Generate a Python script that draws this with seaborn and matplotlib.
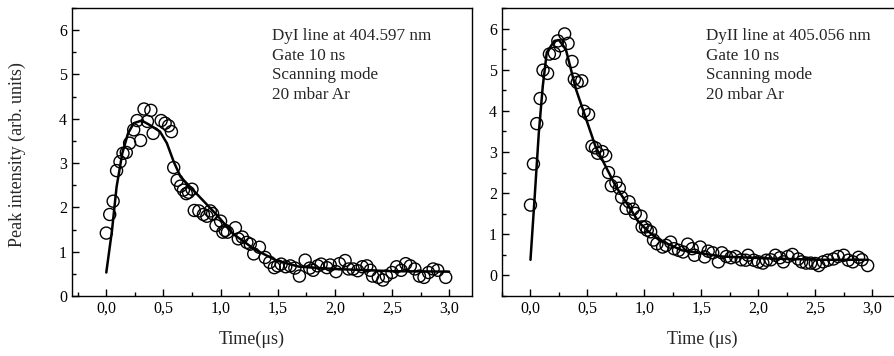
import numpy as np
import pandas as pd
import seaborn as sns
import matplotlib.pyplot as plt
from matplotlib.ticker import MultipleLocator, FuncFormatter

# DyI 404.597 nm - measured points
t_dy1 = [0.00, 0.03, 0.06, 0.09, 0.12, 0.146, 0.175, 0.204, 0.24, 0.27, 0.30, 0.33, 0.36, 0.39,
         0.41, 0.48, 0.515, 0.545, 0.57, 0.59, 0.62, 0.65, 0.675, 0.70, 0.72, 0.75, 0.77, 0.81,
         0.85, 0.88, 0.91, 0.93, 0.96, 1.00, 1.02, 1.04, 1.06, 1.13, 1.155, 1.19, 1.23, 1.26,
         1.29, 1.34, 1.39, 1.43, 1.47, 1.50, 1.53, 1.57, 1.61, 1.65, 1.69, 1.74, 1.78, 1.81,
         1.85, 1.88, 1.93, 1.96, 2.01, 2.04, 2.09, 2.12, 2.16, 2.20, 2.24, 2.28, 2.31, 2.33,
         2.38, 2.42, 2.45, 2.50, 2.54, 2.58, 2.62, 2.66, 2.70, 2.74, 2.78, 2.82, 2.86, 2.90, 2.97]
v_dy1 = [1.42, 1.84, 2.14, 2.83, 3.03, 3.22, 3.24, 3.45, 3.75, 3.96, 3.51, 4.22, 3.94, 4.19,
         3.67, 3.96, 3.90, 3.84, 3.71, 2.90, 2.61, 2.48, 2.39, 2.31, 2.34, 2.41, 1.93, 1.92,
         1.84, 1.80, 1.92, 1.86, 1.59, 1.69, 1.44, 1.48, 1.44, 1.54, 1.29, 1.33, 1.21, 1.17,
         0.95, 1.10, 0.87, 0.76, 0.64, 0.68, 0.72, 0.66, 0.68, 0.63, 0.45, 0.81, 0.63, 0.58,
         0.68, 0.72, 0.64, 0.70, 0.55, 0.73, 0.80, 0.61, 0.61, 0.57, 0.66, 0.68, 0.58, 0.45,
         0.42, 0.36, 0.45, 0.53, 0.66, 0.58, 0.73, 0.68, 0.61, 0.45, 0.42, 0.53, 0.61, 0.58, 0.42]
# DyI fit curve
tf_dy1 = [0.0, 0.05, 0.09, 0.14, 0.19, 0.24, 0.31, 0.38, 0.47, 0.53, 0.59, 0.65, 0.76, 0.97,
          1.11, 1.17, 1.30, 1.49, 1.69, 2.0, 2.5, 3.0]
vf_dy1 = [0.53, 1.48, 2.46, 3.22, 3.67, 3.90, 3.96, 3.86, 3.71, 3.45, 3.03, 2.69, 2.39, 1.82,
          1.40, 1.29, 1.05, 0.80, 0.66, 0.61, 0.56, 0.55]

# DyII 405.056 nm - measured points
t_dy2 = [0.00, 0.026, 0.055, 0.085, 0.11, 0.15, 0.166, 0.21, 0.24, 0.26, 0.30, 0.33, 0.365,
         0.385, 0.41, 0.45, 0.47, 0.51, 0.54, 0.57, 0.59, 0.63, 0.66, 0.685, 0.71, 0.75, 0.78,
         0.80, 0.84, 0.865, 0.90, 0.92, 0.97, 0.98, 1.01, 1.025, 1.055, 1.08, 1.11, 1.16, 1.19,
         1.23, 1.26, 1.30, 1.34, 1.38, 1.42, 1.44, 1.49, 1.53, 1.56, 1.60, 1.65, 1.68, 1.72,
         1.76, 1.80, 1.85, 1.89, 1.91, 1.96, 2.00, 2.04, 2.07, 2.11, 2.15, 2.19, 2.22, 2.26,
         2.30, 2.35, 2.38, 2.42, 2.46, 2.50, 2.53, 2.57, 2.61, 2.66, 2.70, 2.75, 2.79, 2.83,
         2.88, 2.91, 2.96]
v_dy2 = [1.71, 2.71, 3.69, 4.30, 4.99, 4.91, 5.38, 5.40, 5.70, 5.58, 5.87, 5.64, 5.20,
         4.77, 4.69, 4.73, 3.99, 3.91, 3.14, 3.10, 2.97, 3.01, 2.91, 2.50, 2.18, 2.26, 2.12,
         1.90, 1.63, 1.79, 1.61, 1.51, 1.44, 1.18, 1.18, 1.10, 1.06, 0.86, 0.77, 0.69, 0.73,
         0.81, 0.65, 0.61, 0.57, 0.76, 0.65, 0.49, 0.69, 0.45, 0.59, 0.55, 0.33, 0.55, 0.46,
         0.43, 0.46, 0.38, 0.37, 0.49, 0.37, 0.33, 0.30, 0.37, 0.38, 0.49, 0.43, 0.33, 0.46,
         0.51, 0.40, 0.33, 0.30, 0.30, 0.29, 0.24, 0.33, 0.37, 0.40, 0.46, 0.49, 0.37, 0.33,
         0.44, 0.38, 0.24]
# DyII fit curve
tf_dy2 = [0.0, 0.035, 0.073, 0.108, 0.143, 0.21, 0.25, 0.31, 0.40, 0.49, 0.57, 0.66, 0.75,
          0.865, 0.95, 1.03, 1.13, 1.33, 1.68, 2.12, 2.56, 2.96]
vf_dy2 = [0.38, 1.83, 3.46, 4.60, 5.42, 5.70, 5.72, 5.50, 4.52, 3.79, 3.14, 2.65, 2.16,
          1.67, 1.30, 1.08, 0.86, 0.61, 0.46, 0.41, 0.38, 0.38]

x_ticks = [0.0, 0.5, 1.0, 1.5, 2.0, 2.5, 3.0]
y_ticks = [0, 1, 2, 3, 4, 5, 6]
notes_dy1 = ['DyI line at 404.597 nm', 'Gate 10 ns', 'Scanning mode', '20 mbar Ar']
notes_dy2 = ['DyII line at 405.056 nm', 'Gate 10 ns', 'Scanning mode', '20 mbar Ar']

sns.set_style('ticks')
plt.rcParams['font.family'] = ['Liberation Serif', 'DejaVu Serif']

fig = plt.figure(figsize=(8.95, 3.56), dpi=100)
ax1 = fig.add_axes([72 / 895, 1 - 296 / 356, 400 / 895, 288 / 356])
ax2 = fig.add_axes([502 / 895, 1 - 296 / 356, 393 / 895, 288 / 356])

panels = [
    (ax1, t_dy1, v_dy1, tf_dy1, vf_dy1, notes_dy1, (-0.3, 3.2), (0, 6.5), 'Time(μs)', 0.45, 0.5),
    (ax2, t_dy2, v_dy2, tf_dy2, vf_dy2, notes_dy2, (-0.25, 3.2), (-0.5, 6.5), 'Time (μs)', 0.51, 0.52),
]

comma = FuncFormatter(lambda v, p: f'{v:.1f}'.replace('.', ','))

for ax, t, v, tf, vf, notes, xl, yl, xlab, xlab_pos, note_x in panels:
    pts = pd.DataFrame({'t': t, 'v': v})
    fit = pd.DataFrame({'t': tf, 'v': vf})
    sns.lineplot(data=fit, x='t', y='v', ax=ax, color='black', lw=1.8, zorder=3, sort=False)
    sns.scatterplot(data=pts, x='t', y='v', ax=ax, marker='o', s=75,
                    facecolor='none', edgecolor='black', linewidth=1.0, zorder=4)
    ax.set_xlim(*xl)
    ax.set_ylim(*yl)
    ax.set_xticks(x_ticks)
    ax.set_yticks(y_ticks)
    ax.xaxis.set_major_formatter(comma)
    ax.xaxis.set_minor_locator(MultipleLocator(0.25))
    ax.yaxis.set_minor_locator(MultipleLocator(0.5))
    ax.tick_params(which='both', direction='in', labelsize=11.5, colors='black')
    ax.tick_params(which='major', length=5, width=1)
    ax.tick_params(which='minor', length=3, width=1)
    for s in ax.spines.values():
        s.set_visible(True)
        s.set_linewidth(1.0)
        s.set_color('black')
    ax.set_xlabel(xlab, fontsize=13)
    ax.xaxis.set_label_coords(xlab_pos, -0.12)
    ax.set_ylabel('')
    ax.text(note_x, 0.93, '\n'.join(notes), transform=ax.transAxes, fontsize=12.3,
            va='top', ha='left', linespacing=1.3)

ax1.set_ylabel('Peak intensity (arb. units)', fontsize=13)
ax1.yaxis.set_label_coords(-0.115, 0.49)

fig.savefig('out.png', dpi=100)
